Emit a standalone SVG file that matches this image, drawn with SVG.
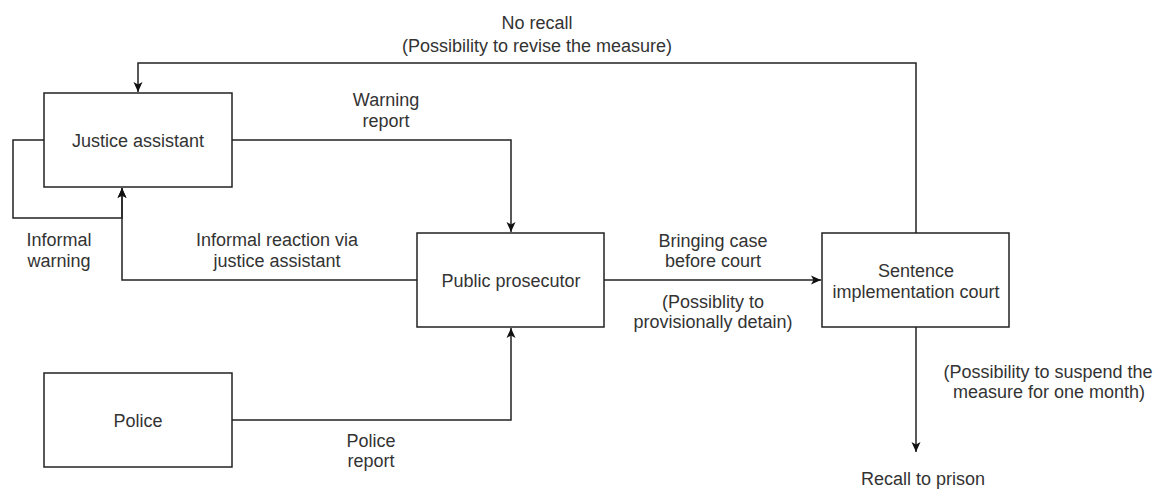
<svg xmlns="http://www.w3.org/2000/svg" width="1159" height="490" viewBox="0 0 1159 490">
<style>
.box{fill:#fff;stroke:#222;stroke-width:1.5}
.ln{fill:none;stroke:#222;stroke-width:1.5}
text{font-family:"Liberation Sans",Arial,sans-serif;font-size:18px;fill:#333;text-anchor:middle}
</style>
<defs>
<marker id="ah" markerUnits="userSpaceOnUse" markerWidth="12" markerHeight="12" viewBox="0 0 12 12" refX="11" refY="6" orient="auto">
<path d="M1,1.5 L11,6 L1,10.5 L3.5,6 Z" fill="#111"/>
</marker>
</defs>
<rect width="1159" height="490" fill="#fff"/>
<g id="connectors">
<path class="ln" d="M916,233 V63 H138 V92" marker-end="url(#ah)"/>
<path class="ln" d="M232,140 H511 V232" marker-end="url(#ah)"/>
<path class="ln" d="M44,140 H13 V218 H122 V188" marker-end="url(#ah)"/>
<path class="ln" d="M417,280 H122 V188" marker-end="url(#ah)"/>
<path class="ln" d="M604,280 H821" marker-end="url(#ah)"/>
<path class="ln" d="M232,420 H511 V328" marker-end="url(#ah)"/>
<path class="ln" d="M916,327 V452" marker-end="url(#ah)"/>
</g>
<g id="labels">
<text x="537" y="29">No recall</text>
<text x="537" y="52">(Possibility to revise the measure)</text>
<text x="386" y="106">Warning</text>
<text x="386" y="127">report</text>
<text x="59" y="246">Informal</text>
<text x="59" y="267">warning</text>
<text x="277" y="246">Informal reaction via</text>
<text x="277" y="267">justice assistant</text>
<text x="713" y="247">Bringing case</text>
<text x="713" y="267">before court</text>
<text x="713" y="308">(Possiblity to</text>
<text x="713" y="328">provisionally detain)</text>
<text x="371" y="447">Police</text>
<text x="371" y="467">report</text>
<text x="1048" y="378">(Possibility to suspend the</text>
<text x="1049" y="398">measure for one month)</text>
<text x="923" y="485">Recall to prison</text>
</g>
<g id="justice">
<rect class="box" x="44" y="93" width="188" height="94"/>
<text x="138" y="147">Justice assistant</text>
</g>
<g id="prosecutor">
<rect class="box" x="417" y="233" width="187" height="94"/>
<text x="511" y="287">Public prosecutor</text>
</g>
<g id="court">
<rect class="box" x="822" y="233" width="187" height="94"/>
<text x="916" y="277">Sentence</text>
<text x="916" y="298">implementation court</text>
</g>
<g id="police">
<rect class="box" x="44" y="373" width="188" height="94"/>
<text x="138" y="427">Police</text>
</g>
</svg>
